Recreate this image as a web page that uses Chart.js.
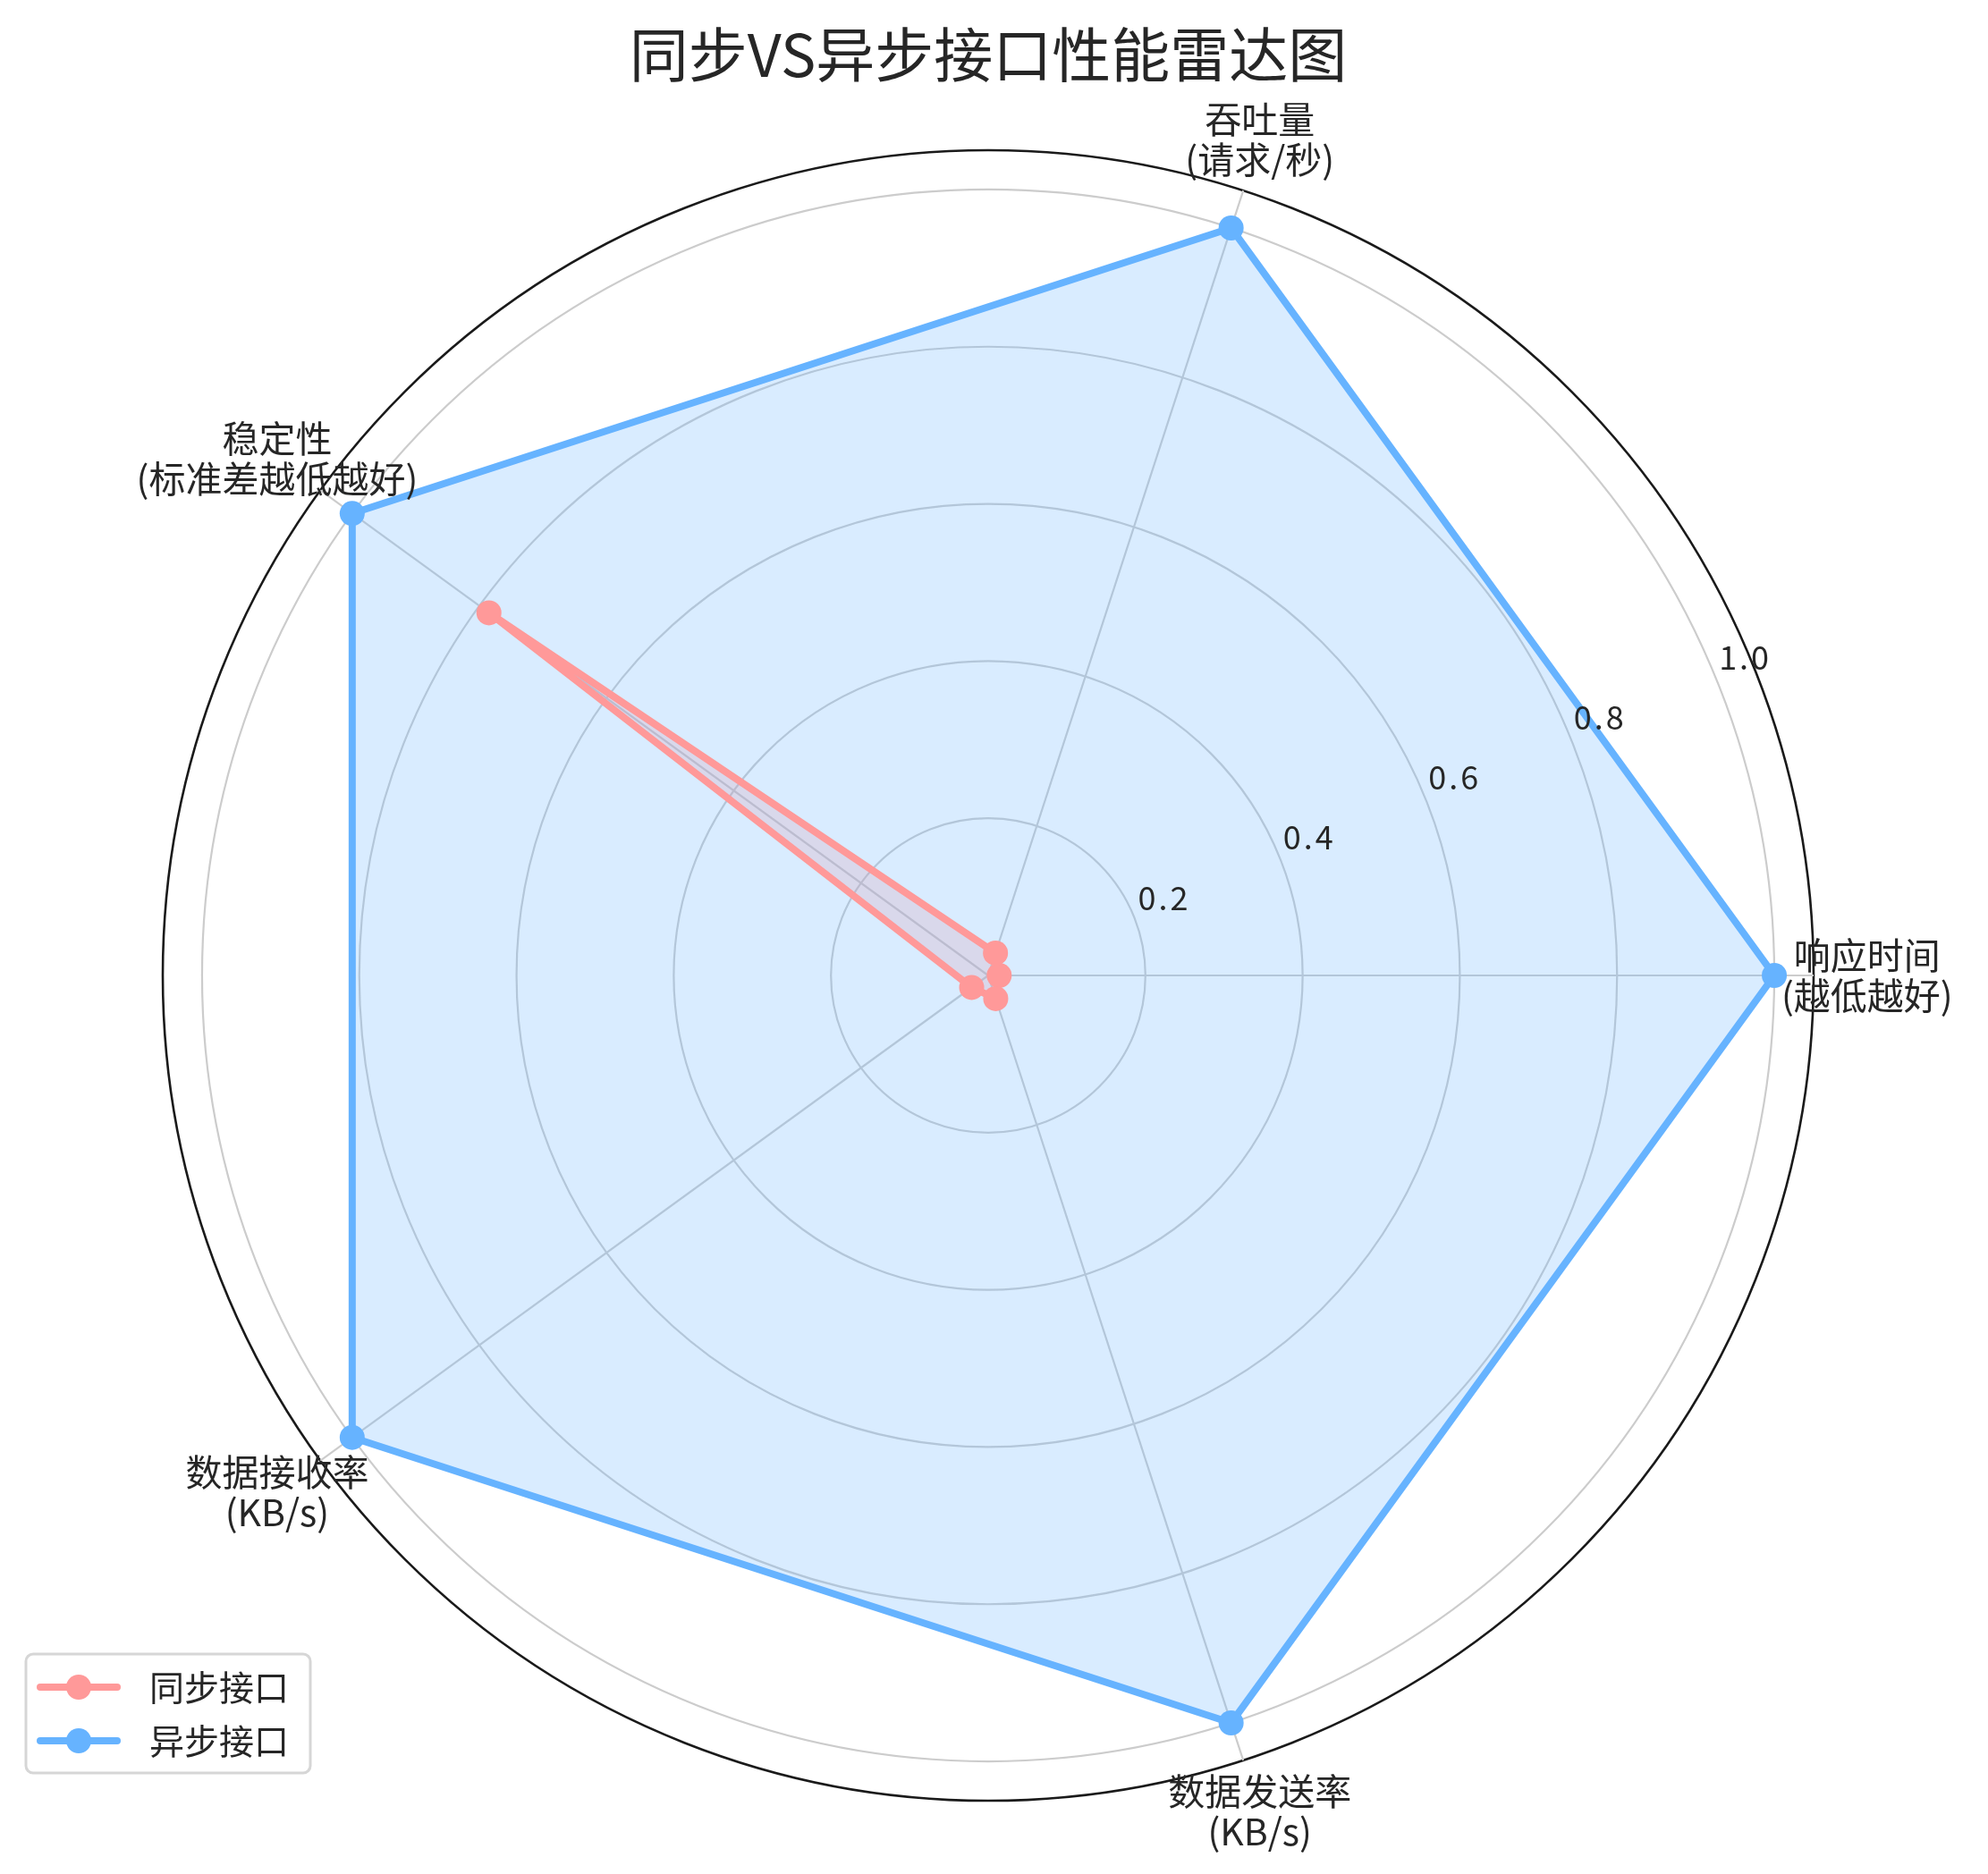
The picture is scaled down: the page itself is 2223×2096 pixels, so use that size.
<!DOCTYPE html>
<html><head><meta charset="utf-8">
<script src="https://cdn.jsdelivr.net/npm/chart.js@4.4.0/dist/chart.umd.min.js"></script>
<style>html,body{margin:0;padding:0;background:#fff}#wrap{position:relative;width:2223px;height:2096px}</style>
</head><body><div id="wrap"><canvas id="c"></canvas></div>
<script>
const title = '同步VS异步接口性能雷达图';
const categories = ['响应时间\n(越低越好)', '吞吐量\n(请求/秒)', '稳定性\n(标准差越低越好)', '数据接收率\n(KB/s)', '数据发送率\n(KB/s)'];
const seriesNames = ['同步接口', '异步接口'];
const syncValues = [0.014, 0.030, 0.785, 0.026, 0.031];
const asyncValues = [1.0, 1.0, 1.0, 1.0, 1.0];
const tickValues = [0.2, 0.4, 0.6, 0.8, 1.0];
const tickLabels = ['0.2', '0.4', '0.6', '0.8', '1.0'];
const radialMax = 1.05;
const labelRadius = 1.118;
const colors = ['#ff9999', '#66b3ff'];
const fills = ['rgba(255,153,153,0.25)', 'rgba(102,179,255,0.25)'];

// reference goes counter-clockwise from east; Chart.js goes clockwise from startAngle
const order = [0, 4, 3, 2, 1];
const pick = arr => order.map(i => arr[i]);

const FONT = '"Noto Sans CJK SC", "Noto Sans", sans-serif';
const TEXT = '#262626';

const decor = {
  id: 'decor',
  afterDraw(chart) {
    const ctx = chart.ctx, s = chart.scales.r;
    ctx.save();
    ctx.fillStyle = TEXT;
    // title
    ctx.font = `66px ${FONT}`;
    ctx.textAlign = 'center';
    ctx.textBaseline = 'middle';
    ctx.fillText(title, s.xCenter, 61);
    // category labels (centered like matplotlib)
    ctx.font = `41px ${FONT}`;
    chart.data.labels.forEach((lab, i) => {
      const p = s.getPointPositionForValue(i, labelRadius);
      const lines = lab.split('\n');
      const lh = 45;
      lines.forEach((ln, k) => ctx.fillText(ln, p.x, p.y + (k - (lines.length - 1) / 2) * lh));
    });
    // radial tick labels at 22.5 deg
    ctx.font = `36px ${FONT}`;
    ctx.textAlign = 'left';
    ctx.textBaseline = 'alphabetic';
    try { ctx.letterSpacing = '3px'; } catch (e) {}
    const a = 22.5 * Math.PI / 180;
    tickValues.forEach((v, i) => {
      const d = s.getDistanceFromCenterForValue(v);
      ctx.fillText(tickLabels[i], s.xCenter + d * Math.cos(a) + 5, s.yCenter - d * Math.sin(a) - 6);
    });
    try { ctx.letterSpacing = '0px'; } catch (e) {}
    // legend
    const bx = 29, by = 1850, bw = 318, bh = 133;
    ctx.beginPath();
    if (ctx.roundRect) ctx.roundRect(bx, by, bw, bh, 8); else ctx.rect(bx, by, bw, bh);
    ctx.fillStyle = 'rgba(255,255,255,0.8)';
    ctx.fill();
    ctx.lineWidth = 3;
    ctx.strokeStyle = '#d6d6d6';
    ctx.stroke();
    const rows = [1887, 1947];
    seriesNames.forEach((name, i) => {
      const y = rows[i];
      ctx.beginPath();
      ctx.moveTo(45, y); ctx.lineTo(131, y);
      ctx.lineWidth = 8; ctx.lineCap = 'round';
      ctx.strokeStyle = colors[i];
      ctx.stroke();
      ctx.beginPath();
      ctx.arc(88, y, 14, 0, Math.PI * 2);
      ctx.fillStyle = colors[i];
      ctx.fill();
      ctx.fillStyle = TEXT;
      ctx.font = `39px ${FONT}`;
      ctx.textAlign = 'left';
      ctx.textBaseline = 'middle';
      ctx.fillText(name, 167, y);
    });
    ctx.restore();
  }
};

function build() {
  const mk = (i, vals, ord) => ({
    label: seriesNames[i],
    data: pick(vals),
    borderColor: colors[i],
    backgroundColor: fills[i],
    borderWidth: 8,
    borderJoinStyle: 'round',
    fill: true,
    tension: 0,
    pointRadius: 14,
    pointHoverRadius: 14,
    pointBorderWidth: 0,
    pointBackgroundColor: colors[i],
    pointBorderColor: colors[i],
    order: ord
  });
  new Chart(document.getElementById('c'), {
    type: 'radar',
    data: {
      labels: pick(categories),
      datasets: [mk(0, syncValues, 2), mk(1, asyncValues, 1)]
    },
    options: {
      responsive: true,
      maintainAspectRatio: false,
      devicePixelRatio: 1,
      animation: false,
      events: [],
      layout: { padding: { left: 182, top: 168, right: 195, bottom: 82 } },
      plugins: {
        legend: { display: false },
        title: { display: false },
        tooltip: { enabled: false },
        filler: { drawTime: 'beforeDatasetsDraw' }
      },
      scales: {
        r: {
          min: 0,
          max: radialMax,
          startAngle: 90,
          afterBuildTicks: sc => { sc.ticks = [0, ...tickValues, radialMax].map(v => ({ value: v })); },
          ticks: { display: false },
          pointLabels: { display: false },
          grid: {
            circular: true,
            color: c => (c.tick && c.tick.value === radialMax) ? '#1a1a1a' : '#cccccc',
            lineWidth: c => (c.tick && c.tick.value === radialMax) ? 2.6 : 2.2
          },
          angleLines: { color: '#cccccc', lineWidth: 2.2 }
        }
      }
    },
    plugins: [decor]
  });
}
const f = document.fonts && document.fonts.load ? Promise.all([
  document.fonts.load(`41px "Noto Sans CJK SC"`, '同步接口'),
]).catch(() => {}) : Promise.resolve();
f.then(build, build);
</script>
</body></html>
